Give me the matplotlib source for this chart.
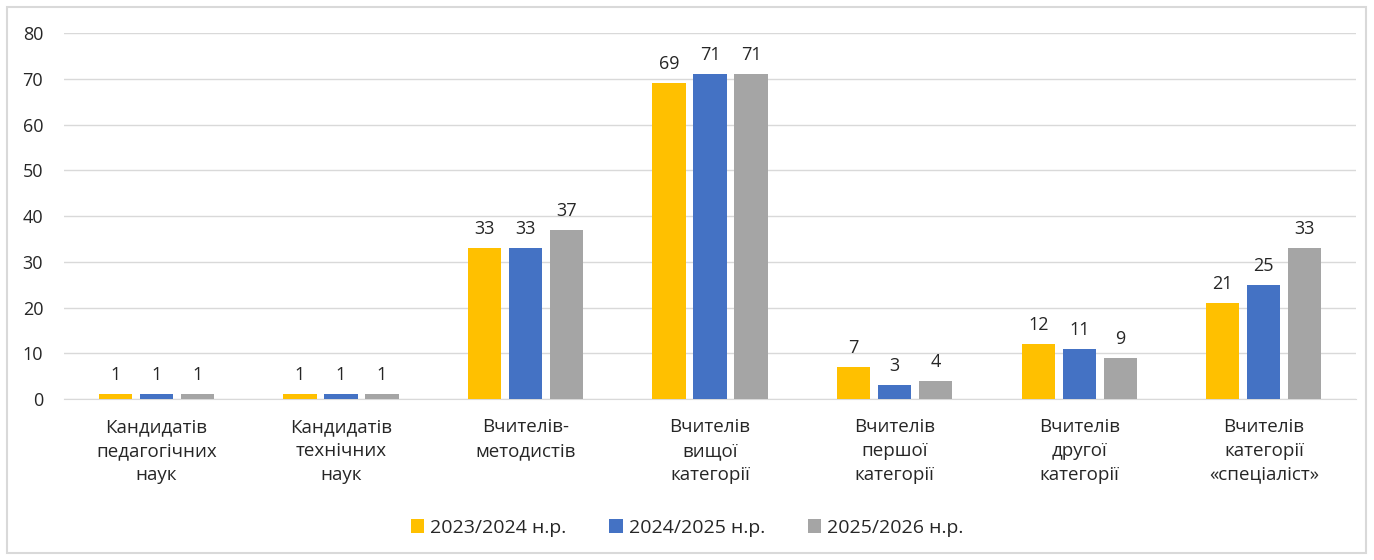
import matplotlib.pyplot as plt
import numpy as np
from matplotlib.patches import Rectangle

plt.rcParams['font.family'] = ['Open Sans', 'DejaVu Sans']

categories = ['Кандидатів\nпедагогічних\nнаук', 'Кандидатів\nтехнічних\nнаук',
              'Вчителів-\nметодистів', 'Вчителів\nвищої\nкатегорії',
              'Вчителів\nпершої\nкатегорії', 'Вчителів\nдругої\nкатегорії',
              'Вчителів\nкатегорії\n«спеціаліст»']
series_names = ['2023/2024 н.р.', '2024/2025 н.р.', '2025/2026 н.р.']
y2023 = [1, 1, 33, 69, 7, 12, 21]
y2024 = [1, 1, 33, 71, 3, 11, 25]
y2025 = [1, 1, 37, 71, 4, 9, 33]
colors = ['#FFC000', '#4472C4', '#A5A5A5']

fig = plt.figure(figsize=(13.74, 5.6), dpi=100)
ax = fig.add_axes([0.0466, 0.2875, 0.9404, 0.6535])

x = np.arange(len(categories))
width = 0.18
step = 0.222
for i, (vals, name, c) in enumerate(zip([y2023, y2024, y2025], series_names, colors)):
    bars = ax.bar(x + (i - 1) * step, vals, width, color=c, label=name, zorder=3)
    for b, v in zip(bars, vals):
        ax.text(b.get_x() + b.get_width() / 2, v + 2.2, str(v), ha='center', va='bottom',
                fontsize=13, color='#262626')

ax.set_xlim(-0.5, len(categories) - 0.5)
ax.set_ylim(0, 80)
ax.set_yticks(range(0, 81, 10))
ax.set_xticks(x)
ax.set_xticklabels(categories, fontsize=13.5, color='#262626', linespacing=1.4)
ax.tick_params(axis='y', labelsize=13, labelcolor='#262626', length=0, pad=15)
ax.tick_params(axis='x', length=0, pad=14)
ax.grid(axis='y', color='#D9D9D9', linewidth=1, zorder=0)
for s in ['top', 'right', 'left']:
    ax.spines[s].set_visible(False)
ax.spines['bottom'].set_color('#D9D9D9')

fig.legend(loc='center', bbox_to_anchor=(0.5, 0.057), ncol=3, frameon=False,
           fontsize=14, handlelength=0.7, handleheight=0.7, handletextpad=0.3,
           columnspacing=2.2, labelcolor='#262626')

fig.patches.append(Rectangle((7 / 1374, 7 / 560), 1359 / 1374, 546 / 560,
                             transform=fig.transFigure, fill=False,
                             edgecolor='#D9D9D9', linewidth=1.5))

fig.savefig('out.png', dpi=100)
